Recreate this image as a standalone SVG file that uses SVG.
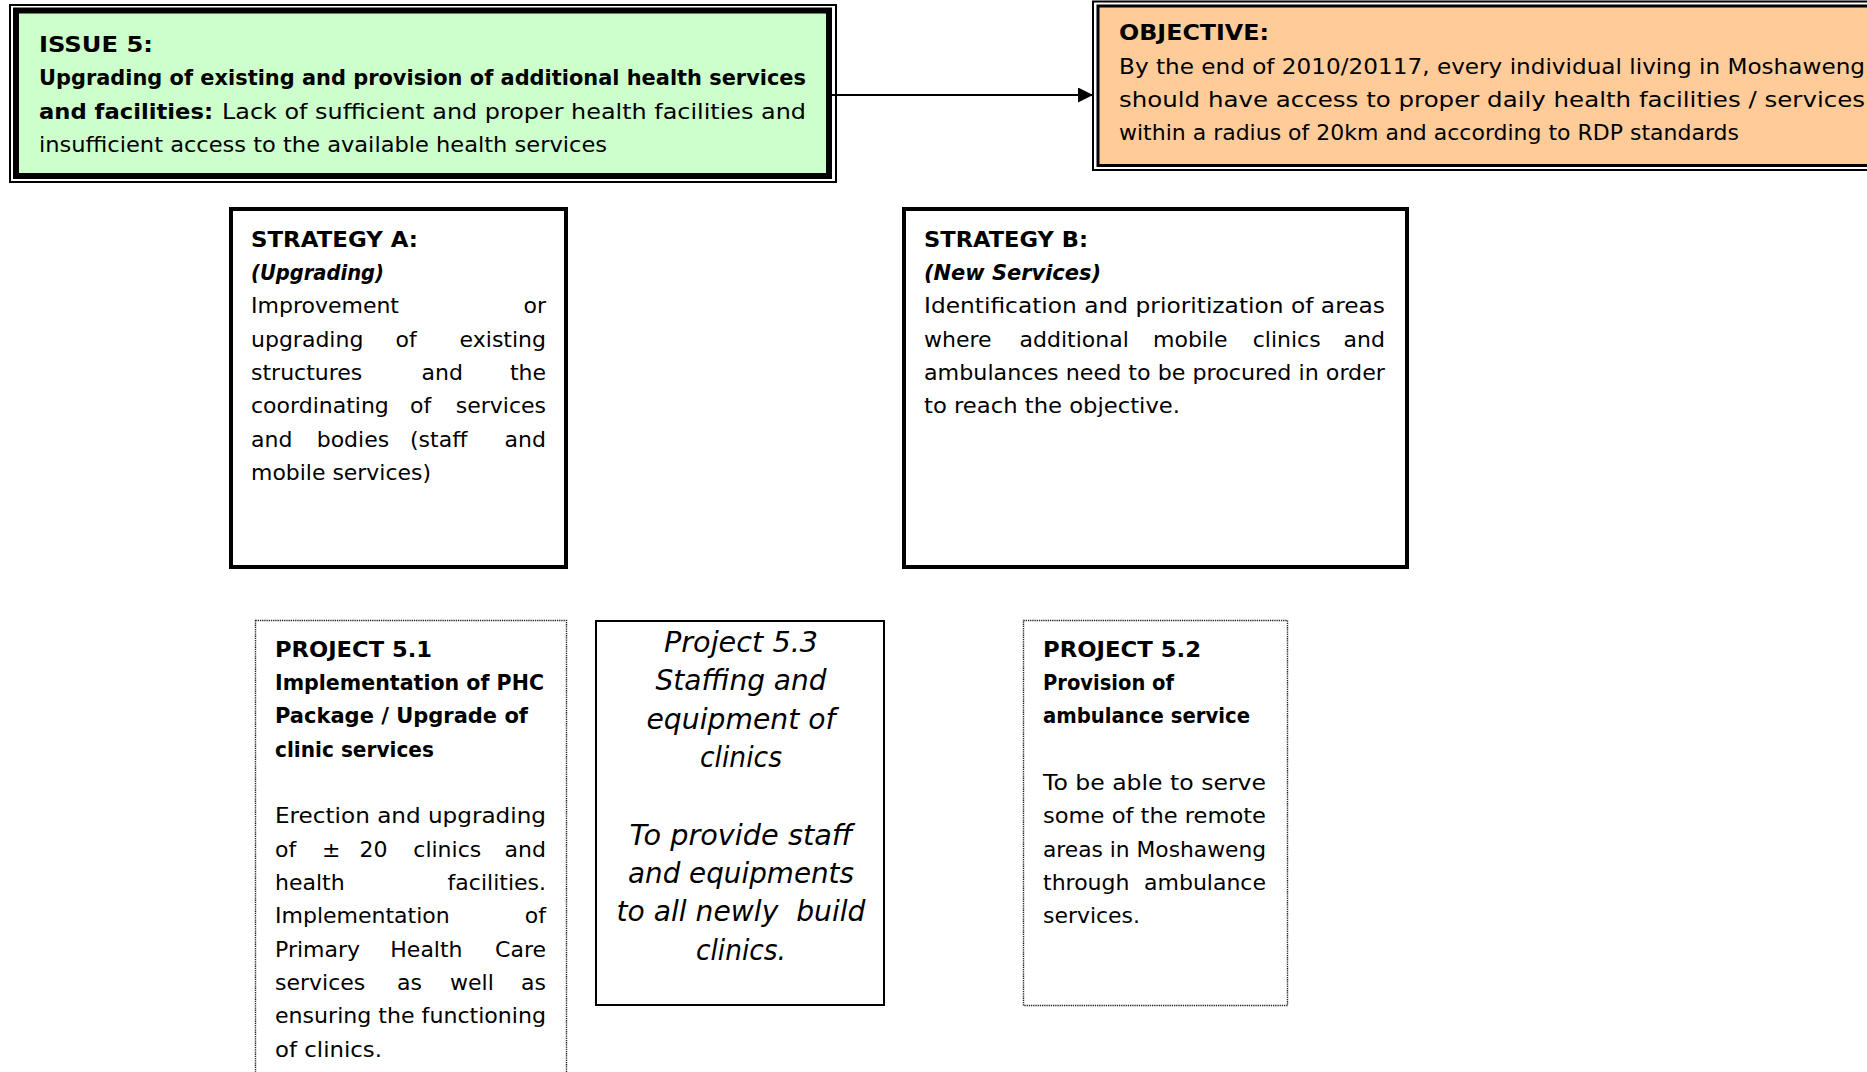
<svg xmlns="http://www.w3.org/2000/svg" width="1867" height="1072" viewBox="0 0 1867 1072">
  <style>
    .t { font-family: "DejaVu Sans", "Liberation Sans", sans-serif; font-size: 22px; fill: #000; }
    .b { font-weight: bold; }
    .bi { font-weight: bold; font-style: italic; }
    .e { text-anchor: end; }
    .p3 { font-family: "DejaVu Sans", "Liberation Sans", sans-serif; font-size: 28px; font-style: italic; text-anchor: middle; fill: #000; }
    .strat { fill: #fff; stroke: #000; stroke-width: 4; }
    .dot { fill: #fff; stroke: #222; stroke-width: 1.4; stroke-dasharray: 1.3 0.9; }
    .solid { fill: #fff; stroke: #000; stroke-width: 2; }
    .link { stroke: #000; stroke-width: 2; fill: none; }
  </style>
  <defs>
    <marker id="arrow" markerWidth="16" markerHeight="16" refX="15" refY="7.5" orient="auto" markerUnits="userSpaceOnUse">
      <path d="M0,0 L15,7.5 L0,15 Z" fill="#000"/>
    </marker>
  </defs>

  <rect width="1867" height="1072" fill="#fff"/>

  <!-- Issue box: thin outer frame plus heavy inner frame -->
  <g id="issue">
    <rect x="10" y="5" width="826" height="177" fill="#fff" stroke="#000" stroke-width="2"/>
    <rect x="16" y="10.5" width="813" height="165.5" fill="#CCFFCC" stroke="#000" stroke-width="6"/>
    <text class="t b" x="39" y="52" textLength="114" lengthAdjust="spacingAndGlyphs">ISSUE 5:</text>
    <text class="t b" x="39" y="85.4" textLength="767" lengthAdjust="spacingAndGlyphs">Upgrading of existing and provision of additional health services</text>
    <text class="t b" x="39" y="118.7" textLength="174" lengthAdjust="spacingAndGlyphs">and facilities:</text>
    <text class="t" x="222" y="118.7" textLength="584" lengthAdjust="spacingAndGlyphs">Lack of sufficient and proper health facilities and</text>
    <text class="t" x="39" y="152" textLength="568" lengthAdjust="spacingAndGlyphs">insufficient access to the available health services</text>
  </g>

  <!-- Objective box: double frame running off the right edge -->
  <g id="objective">
    <rect x="1093" y="1.5" width="800" height="168.5" fill="#fff" stroke="#000" stroke-width="2"/>
    <rect x="1098" y="6" width="800" height="159.5" fill="#FFCC99" stroke="#000" stroke-width="3"/>
    <text class="t b" x="1119" y="40" textLength="150" lengthAdjust="spacingAndGlyphs">OBJECTIVE:</text>
    <text class="t" x="1119" y="73.5" textLength="746" lengthAdjust="spacingAndGlyphs">By the end of 2010/20117, every individual living in Moshaweng</text>
    <text class="t" x="1119" y="107" textLength="746" lengthAdjust="spacingAndGlyphs">should have access to proper daily health facilities / services</text>
    <text class="t" x="1119" y="140" textLength="620" lengthAdjust="spacingAndGlyphs">within a radius of 20km and according to RDP standards</text>
  </g>

  <!-- Strategy A -->
  <g id="strategy-a">
    <rect class="strat" x="231" y="209" width="335" height="358"/>
    <text class="t b" x="251" y="246.7" textLength="167" lengthAdjust="spacingAndGlyphs">STRATEGY A:</text>
    <text class="t bi" x="251" y="280" textLength="133" lengthAdjust="spacingAndGlyphs">(Upgrading)</text>
    <text class="t" x="251" y="313">Improvement</text>
    <text class="t e" x="546" y="313">or</text>
    <text class="t" x="251" y="346.5">upgrading</text>
    <text class="t" x="395.5" y="346.5">of</text>
    <text class="t e" x="546" y="346.5">existing</text>
    <text class="t" x="251" y="380">structures</text>
    <text class="t" x="421.5" y="380">and</text>
    <text class="t e" x="546" y="380">the</text>
    <text class="t" x="251" y="413">coordinating</text>
    <text class="t" x="410" y="413">of</text>
    <text class="t e" x="546" y="413">services</text>
    <text class="t" x="251" y="446.5">and</text>
    <text class="t" x="316.7" y="446.5">bodies</text>
    <text class="t" x="410" y="446.5">(staff</text>
    <text class="t e" x="546" y="446.5">and</text>
    <text class="t" x="251" y="480" textLength="180" lengthAdjust="spacingAndGlyphs">mobile services)</text>
  </g>

  <!-- Strategy B -->
  <g id="strategy-b">
    <rect class="strat" x="904" y="209" width="503" height="358"/>
    <text class="t b" x="924" y="246.7" textLength="164" lengthAdjust="spacingAndGlyphs">STRATEGY B:</text>
    <text class="t bi" x="924" y="280" textLength="177" lengthAdjust="spacingAndGlyphs">(New Services)</text>
    <text class="t" x="924" y="313" textLength="461" lengthAdjust="spacingAndGlyphs">Identification and prioritization of areas</text>
    <text class="t" x="924" y="346.5">where</text>
    <text class="t" x="1019.5" y="346.5">additional</text>
    <text class="t" x="1153" y="346.5">mobile</text>
    <text class="t" x="1252.7" y="346.5">clinics</text>
    <text class="t e" x="1385" y="346.5">and</text>
    <text class="t" x="924" y="380" textLength="461" lengthAdjust="spacingAndGlyphs">ambulances need to be procured in order</text>
    <text class="t" x="924" y="413" textLength="256" lengthAdjust="spacingAndGlyphs">to reach the objective.</text>
  </g>

  <!-- Project 5.1 (dotted frame, continues below the page) -->
  <g id="project-5-1">
    <rect class="dot" x="255.5" y="620.5" width="311" height="520"/>
    <text class="t b" x="275" y="656.7" textLength="157" lengthAdjust="spacingAndGlyphs">PROJECT 5.1</text>
    <text class="t b" x="275" y="690" textLength="269" lengthAdjust="spacingAndGlyphs">Implementation of PHC</text>
    <text class="t b" x="275" y="723" textLength="253" lengthAdjust="spacingAndGlyphs">Package / Upgrade of</text>
    <text class="t b" x="275" y="756.7" textLength="159" lengthAdjust="spacingAndGlyphs">clinic services</text>
    <text class="t" x="275" y="823.3" textLength="271" lengthAdjust="spacingAndGlyphs">Erection and upgrading</text>
    <text class="t" x="275" y="856.7">of</text>
    <text class="t" x="322" y="856.7">±</text>
    <text class="t" x="359.6" y="856.7">20</text>
    <text class="t" x="413.3" y="856.7">clinics</text>
    <text class="t e" x="546" y="856.7">and</text>
    <text class="t" x="275" y="890">health</text>
    <text class="t e" x="546" y="890">facilities.</text>
    <text class="t" x="275" y="923.3">Implementation</text>
    <text class="t e" x="546" y="923.3">of</text>
    <text class="t" x="275" y="956.7">Primary</text>
    <text class="t" x="390.3" y="956.7">Health</text>
    <text class="t e" x="546" y="956.7">Care</text>
    <text class="t" x="275" y="990">services</text>
    <text class="t" x="397" y="990">as</text>
    <text class="t" x="450" y="990">well</text>
    <text class="t e" x="546" y="990">as</text>
    <text class="t" x="275" y="1023.3" textLength="271" lengthAdjust="spacingAndGlyphs">ensuring the functioning</text>
    <text class="t" x="275" y="1056.7" textLength="107" lengthAdjust="spacingAndGlyphs">of clinics.</text>
  </g>

  <!-- Project 5.3 -->
  <g id="project-5-3">
    <rect class="solid" x="596" y="621" width="288" height="384"/>
    <text class="p3" x="741" y="652" textLength="154" lengthAdjust="spacingAndGlyphs">Project 5.3</text>
    <text class="p3" x="741" y="690" textLength="171" lengthAdjust="spacingAndGlyphs">Staffing and</text>
    <text class="p3" x="741" y="729" textLength="189" lengthAdjust="spacingAndGlyphs">equipment of</text>
    <text class="p3" x="741" y="767" textLength="82" lengthAdjust="spacingAndGlyphs">clinics</text>
    <text class="p3" x="741" y="845" textLength="223" lengthAdjust="spacingAndGlyphs">To provide staff</text>
    <text class="p3" x="741" y="883" textLength="226" lengthAdjust="spacingAndGlyphs">and equipments</text>
    <text class="p3" x="741" y="921" textLength="249" lengthAdjust="spacingAndGlyphs" style="white-space:pre">to all newly  build</text>
    <text class="p3" x="741" y="960" textLength="90" lengthAdjust="spacingAndGlyphs">clinics.</text>
  </g>

  <!-- Project 5.2 -->
  <g id="project-5-2">
    <rect class="dot" x="1023.5" y="620.5" width="264" height="385"/>
    <text class="t b" x="1043" y="656.7" textLength="158" lengthAdjust="spacingAndGlyphs">PROJECT 5.2</text>
    <text class="t b" x="1043" y="690" textLength="131" lengthAdjust="spacingAndGlyphs">Provision of</text>
    <text class="t b" x="1043" y="723" textLength="207" lengthAdjust="spacingAndGlyphs">ambulance service</text>
    <text class="t" x="1043" y="790" textLength="223" lengthAdjust="spacingAndGlyphs">To be able to serve</text>
    <text class="t" x="1043" y="823" textLength="223" lengthAdjust="spacingAndGlyphs">some of the remote</text>
    <text class="t" x="1043" y="856.7" textLength="223" lengthAdjust="spacingAndGlyphs">areas in Moshaweng</text>
    <text class="t" x="1043" y="890">through</text>
    <text class="t e" x="1266" y="890">ambulance</text>
    <text class="t" x="1043" y="923" textLength="97" lengthAdjust="spacingAndGlyphs">services.</text>
  </g>

  <!-- Connectors -->
  <g id="connectors">
    <line class="link" x1="832" y1="95" x2="1093" y2="95" marker-end="url(#arrow)"/>
  </g>
</svg>
